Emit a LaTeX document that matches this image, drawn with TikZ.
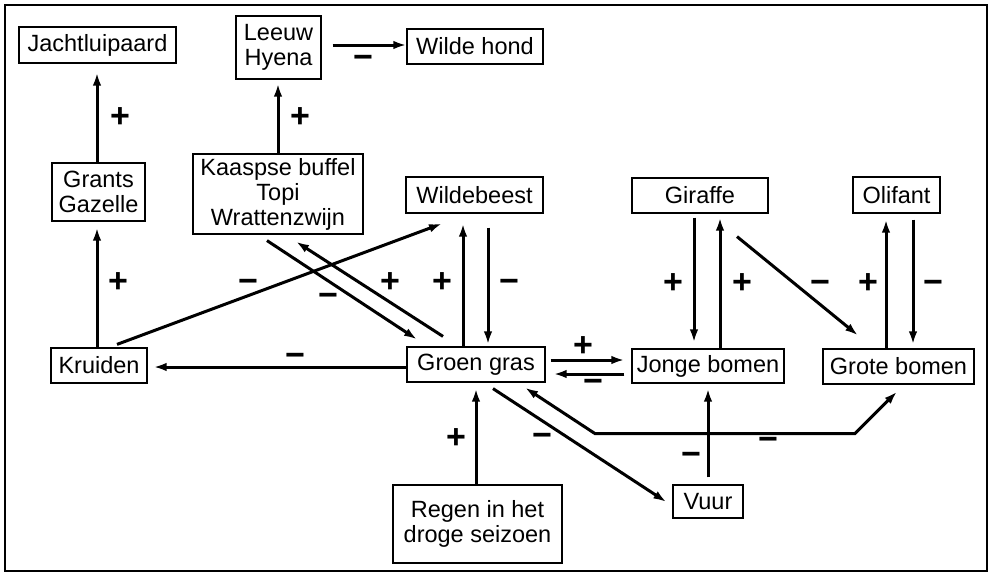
\documentclass[tikz,border=0pt]{standalone}
\usepackage{fontspec}
\setmainfont{Liberation Sans}
\usetikzlibrary{arrows.meta,calc}
\newcommand{\mns}{\vphantom{+}−}
\begin{document}
\begin{tikzpicture}[x=1pt,y=-1pt,
  box/.style={draw,line width=1.2pt,inner sep=0pt,align=center,
    font=\fontsize{23.5}{25}\selectfont},
  arr/.style={line width=3pt,-{Latex[length=13pt,width=8.5pt]}},
  arrtwo/.style={line width=3pt,{Latex[length=13pt,width=8.5pt]}-{Latex[length=13pt,width=8.5pt]}},
  lbl/.style={inner sep=0pt,font=\fontsize{34}{34}\selectfont\bfseries}]
\useasboundingbox (0,0) rectangle (990,573);
\draw[line width=1.5pt] (5,5) rectangle (987,571);
% nodes
\node[box,minimum width=157pt,minimum height=36pt] (jacht) at (97.5,45) {Jachtluipaard};
\node[box,minimum width=85pt,minimum height=63pt] (leeuw) at (278.5,47.5) {Leeuw\\Hyena};
\node[box,minimum width=136pt,minimum height=35pt] (wilde) at (475,46.5) {Wilde hond};
\node[box,minimum width=93pt,minimum height=58pt] (grants) at (98.5,192) {Grants\\Gazelle};
\node[box,minimum width=170pt,minimum height=80pt] (kaap) at (278,194) {Kaaspse buffel\\Topi\\Wrattenzwijn};
\node[box,minimum width=137pt,minimum height=36pt] (wbeest) at (474.5,195) {Wildebeest};
\node[box,minimum width=136pt,minimum height=35pt] (giraffe) at (700,195.5) {Giraffe};
\node[box,minimum width=87pt,minimum height=36pt] (olifant) at (896.5,195) {Olifant};
\node[box,minimum width=96pt,minimum height=35pt] (kruiden) at (99,365.5) {Kruiden};
\node[box,minimum width=138pt,minimum height=35pt] (groen) at (476,364.5) {Groen gras};
\node[box,minimum width=152pt,minimum height=34pt] (jonge) at (708,366) {Jonge bomen};
\node[box,minimum width=151pt,minimum height=35pt] (grote) at (898.5,366.5) {Grote bomen};
\node[box,minimum width=169pt,minimum height=78pt] (regen) at (477.5,524) {Regen in het\\droge seizoen};
\node[box,minimum width=70pt,minimum height=33pt] (vuur) at (708,501.5) {Vuur};
% connectors
\draw[arr] ($(grants.north)+(-1.5,0)$) -- ($(jacht.south)+(-0.5,9)$);
\draw[arr] (kaap.north) -- ($(leeuw.south)+(-0.5,4)$);
\draw[arr] ($(leeuw.east)+(11,-2.5)$) -- ($(wilde.west)+(0,-1.5)$);
\draw[arr] ($(kruiden.north)+(-2,0)$) -- ($(grants.south)+(-1.5,6)$);
\draw[arr] ($(kruiden.north)+(18,-3)$) -- ($(wbeest.south)+(-32.5,10)$);
\draw[arr] ($(kaap.south)+(-11,6)$) -- ($(groen.north)+(-59,-7)$);
\draw[arr] ($(groen.north)+(-33,-10)$) -- ($(kaap.south)+(18,7)$);
\draw[arr] ($(groen.north)+(-13,0)$) -- ($(wbeest.south)+(-11.5,10)$);
\draw[arr] ($(wbeest.south)+(13.5,14)$) -- ($(groen.north)+(12,-2)$);
\draw[arr] ($(groen.west)+(0,2.5)$) -- ($(kruiden.east)+(6,1.5)$);
\draw[arr] ($(groen.east)+(5,-4.5)$) -- ($(jonge.west)+(-7,-6)$);
\draw[arr] ($(jonge.west)+(-7,8)$) -- ($(groen.east)+(8,9.5)$);
\draw[arr] ($(giraffe.south)+(-6,4)$) -- ($(jonge.north)+(-14,-6)$);
\draw[arr] ($(jonge.north)+(12,0)$) -- ($(giraffe.south)+(20,4)$);
\draw[arr] ($(giraffe.south)+(37,23)$) -- ($(grote.north)+(-40.5,-13)$);
\draw[arr] ($(grote.north)+(-12.5,0)$) -- ($(olifant.south)+(-10.5,6)$);
\draw[arr] ($(olifant.south)+(16.5,6)$) -- ($(grote.north)+(14.5,-4)$);
\draw[arr] ($(regen.north)+(-1.5,0)$) -- ($(groen.south)+(0,6)$);
\draw[arr] ($(groen.south)+(17,6)$) -- ($(vuur.west)+(-6,0.5)$);
\draw[arr] ($(vuur.north)+(0,-7)$) -- ($(jonge.south)+(0,5)$);
\draw[arrtwo] ($(groen.south)+(49,5)$) -- ($(groen.south)+(119,51)$) -- ($(grote.south)+(-43.5,49)$) -- ($(grote.south)+(-1.5,7)$);
% labels
\node[lbl] at (120,118) {+};
\node[lbl] at (300,118) {+};
\node[lbl] at (363,59) {\mns};
\node[lbl] at (118,283) {+};
\node[lbl] at (248,283) {\mns};
\node[lbl] at (328,297) {\mns};
\node[lbl] at (390,283) {+};
\node[lbl] at (442,283) {+};
\node[lbl] at (509,283) {\mns};
\node[lbl] at (295,357) {\mns};
\node[lbl] at (583,347) {+};
\node[lbl] at (593,383) {\mns};
\node[lbl] at (673,284) {+};
\node[lbl] at (742,284) {+};
\node[lbl] at (820,284) {\mns};
\node[lbl] at (868,284) {+};
\node[lbl] at (933,284) {\mns};
\node[lbl] at (456,439) {+};
\node[lbl] at (542,437) {\mns};
\node[lbl] at (691,456) {\mns};
\node[lbl] at (768,441) {\mns};
\end{tikzpicture}
\end{document}
